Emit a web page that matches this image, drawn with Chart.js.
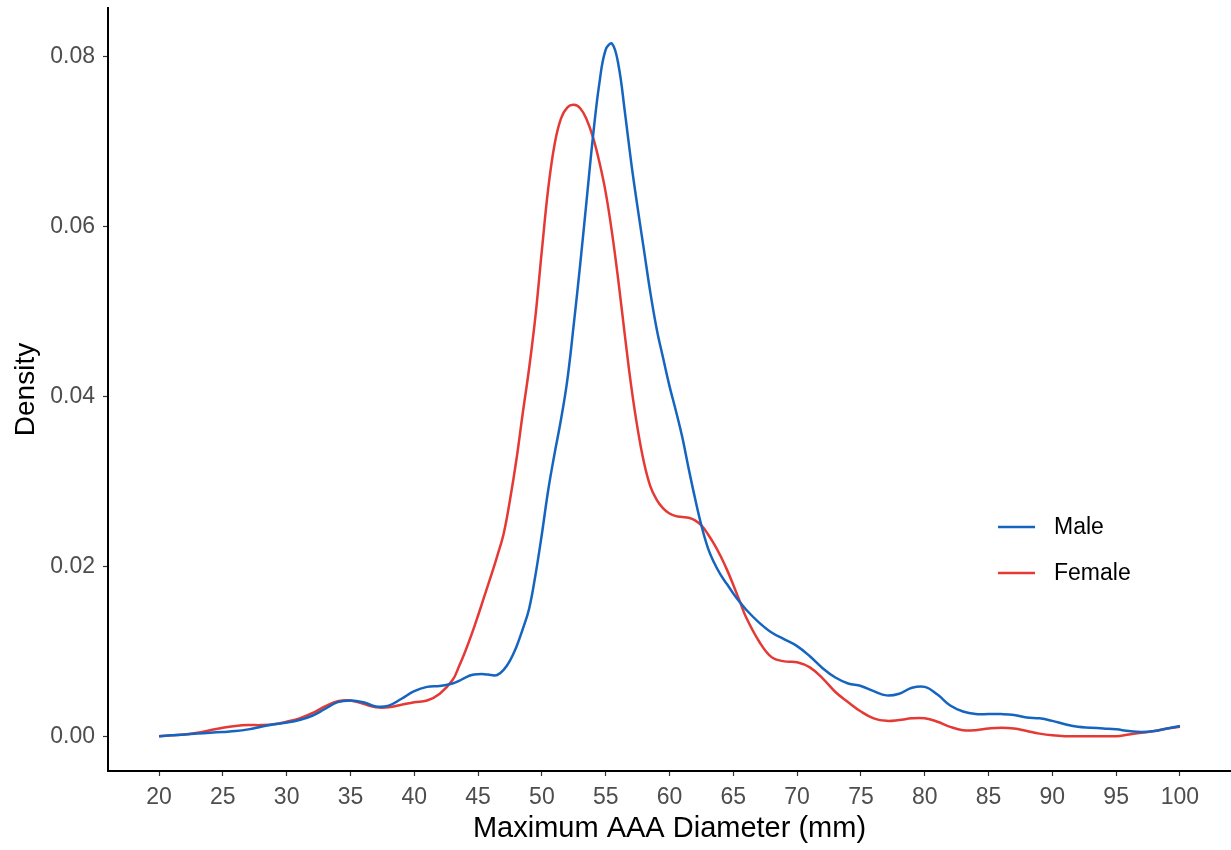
<!DOCTYPE html>
<html>
<head>
<meta charset="utf-8">
<script src="https://cdn.jsdelivr.net/npm/chart.js@4/dist/chart.umd.min.js"></script>
<style>
  html, body { margin: 0; padding: 0; background: #fff; }
  #wrap { width: 1231px; height: 850px; }
</style>
</head>
<body>
<div id="wrap"><canvas id="density" width="1231" height="850"></canvas></div>
<script>
// diameter grid (mm): 1 mm steps in the tails, 0.5 mm through the peak
const diameter = [
  20, 21, 22, 23, 24, 25, 26, 27, 28, 29, 30, 31, 32, 33, 34, 35, 36, 37, 38, 39, 40, 41, 42,
  43, 43.5, 44, 44.5, 45, 45.5, 46, 46.5, 47, 47.5,
  48, 48.5, 49, 49.5, 50, 50.5, 51, 51.5, 52, 52.5,
  53, 53.5, 54, 54.5, 55, 55.5, 56, 56.5, 57, 57.5,
  58, 58.5, 59, 59.5, 60, 60.5, 61, 61.5, 62, 62.5,
  63, 63.5, 64, 64.5, 65, 65.5, 66,
  67, 68, 69, 70, 71, 72, 73, 74, 75, 76, 77, 78, 79, 80, 81, 82, 83,
  84, 85, 86, 87, 88, 89, 90, 91, 92, 93, 94, 95, 96, 97, 98, 99, 100
];

const maleDensity = [
  0.0000, 0.0001, 0.0002, 0.0003, 0.0004, 0.0005, 0.0006, 0.0008, 0.0011, 0.0014,
  0.0016, 0.0019, 0.0024, 0.0032, 0.0040, 0.0042, 0.0040, 0.0035, 0.0036, 0.0044,
  0.0053, 0.0058, 0.0059,
  0.0062, 0.0065, 0.0069, 0.0072, 0.0073, 0.0073, 0.0072, 0.0072, 0.0078, 0.0089,
  0.0105, 0.0126, 0.0150, 0.0190, 0.0238, 0.0290, 0.0333, 0.0373, 0.0420, 0.0485,
  0.0555, 0.0630, 0.0705, 0.0768, 0.0808, 0.0815, 0.0790, 0.0735, 0.0675, 0.0622,
  0.0572, 0.0522, 0.0479, 0.0445, 0.0412, 0.0383, 0.0352, 0.0315, 0.0280, 0.0248,
  0.0222, 0.0204, 0.0190, 0.0179, 0.0168, 0.0158, 0.0149,
  0.0134, 0.0122, 0.0114, 0.0106, 0.0094, 0.0080, 0.0069, 0.0062, 0.0059, 0.0053,
  0.0048, 0.0050, 0.0057, 0.0058, 0.0049, 0.0036, 0.0029, 0.0026, 0.0026, 0.0026,
  0.0025, 0.0022, 0.0021, 0.0018, 0.0014, 0.0011, 0.0010, 0.0009, 0.0008, 0.0006,
  0.0005, 0.0006, 0.0009, 0.0012
];

const femaleDensity = [
  0.0000, 0.0001, 0.0002, 0.0004, 0.0007, 0.0010, 0.0012, 0.0013, 0.0013, 0.0014,
  0.0017, 0.0021, 0.0027, 0.0035, 0.0041, 0.0042, 0.0038, 0.0034, 0.0034, 0.0037,
  0.0040, 0.0042, 0.0050,
  0.0066, 0.0082, 0.0100, 0.0120, 0.0142, 0.0165, 0.0188, 0.0212, 0.0238, 0.0278,
  0.0325, 0.0380, 0.0433, 0.0495, 0.0572, 0.0645, 0.0697, 0.0727, 0.0740, 0.0743,
  0.0739, 0.0726, 0.0705, 0.0676, 0.0640, 0.0592, 0.0535, 0.0472, 0.0412, 0.0362,
  0.0322, 0.0294, 0.0278, 0.0268, 0.0262, 0.0259, 0.0258, 0.0257, 0.0254, 0.0248,
  0.0238, 0.0226, 0.0212, 0.0196, 0.0178, 0.0159, 0.0140,
  0.0112, 0.0093, 0.0088, 0.0087, 0.0081, 0.0068, 0.0052, 0.0040, 0.0029, 0.0021,
  0.0018, 0.0019, 0.0021, 0.0021, 0.0017, 0.0011, 0.0007, 0.0007, 0.0009, 0.0010,
  0.0009, 0.0006, 0.0003, 0.0001, 0.0000, 0.0000, 0.0000, 0.0000, 0.0000, 0.0002,
  0.0004, 0.0006, 0.0009, 0.0011
];

const xTicks = [20, 25, 30, 35, 40, 45, 50, 55, 60, 65, 70, 75, 80, 85, 90, 95, 100];
const yTicks = [0, 0.02, 0.04, 0.06, 0.08];

const seriesNames = ['Male', 'Female'];
const seriesColors = ['#1565C0', '#E53935'];

const FONT = '"Liberation Sans", Arial, sans-serif';

const toPoints = (ys) => diameter.map((x, i) => ({ x: x, y: ys[i] }));

// legend drawn inside the panel, ggplot style
const insideLegend = {
  id: 'insideLegend',
  afterDraw(chart) {
    const ctx = chart.ctx;
    ctx.save();
    ctx.font = '23px ' + FONT;
    ctx.textBaseline = 'middle';
    seriesNames.forEach((name, i) => {
      const y = 527 + i * 46;
      ctx.strokeStyle = seriesColors[i];
      ctx.lineWidth = 2.5;
      ctx.beginPath();
      ctx.moveTo(998, y);
      ctx.lineTo(1035, y);
      ctx.stroke();
      ctx.fillStyle = '#000';
      ctx.fillText(name, 1054, y + 1);
    });
    ctx.restore();
  }
};

new Chart(document.getElementById('density'), {
  type: 'line',
  data: {
    datasets: [
      {
        label: seriesNames[0],
        data: toPoints(maleDensity),
        borderColor: seriesColors[0],
        borderWidth: 2.5,
        pointRadius: 0,
        tension: 0.4,
        fill: false
      },
      {
        label: seriesNames[1],
        data: toPoints(femaleDensity),
        borderColor: seriesColors[1],
        borderWidth: 2.5,
        pointRadius: 0,
        tension: 0.4,
        fill: false
      }
    ]
  },
  options: {
    responsive: false,
    animation: false,
    layout: { padding: { top: 8, right: 0, bottom: 0, left: 0 } },
    plugins: {
      legend: { display: false },
      tooltip: { enabled: false }
    },
    scales: {
      x: {
        type: 'linear',
        min: 16,
        max: 104,
        afterBuildTicks: (axis) => { axis.ticks = xTicks.map(v => ({ value: v })); },
        afterFit: (axis) => {
          axis.height = 79;
          axis.paddingLeft = 0;
          axis.paddingRight = 0;
        },
        grid: {
          drawOnChartArea: false,
          drawTicks: true,
          tickLength: 5,
          tickWidth: 1.2,
          tickColor: '#333'
        },
        border: { display: true, color: '#000', width: 2 },
        ticks: {
          autoSkip: false,
          maxRotation: 0,
          padding: 8,
          color: '#4D4D4D',
          font: { family: FONT, size: 23 }
        },
        title: {
          display: true,
          text: 'Maximum AAA Diameter (mm)',
          color: '#000',
          padding: { top: 0, bottom: 4 },
          font: { family: FONT, size: 29 }
        }
      },
      y: {
        type: 'linear',
        min: -0.0041,
        max: 0.0857,
        afterBuildTicks: (axis) => { axis.ticks = yTicks.map(v => ({ value: v })); },
        afterFit: (axis) => {
          axis.width = 108;
          axis.paddingTop = 0;
          axis.paddingBottom = 0;
        },
        grid: {
          drawOnChartArea: false,
          drawTicks: true,
          tickLength: 5,
          tickWidth: 1.2,
          tickColor: '#333'
        },
        border: { display: true, color: '#000', width: 2 },
        ticks: {
          padding: 8,
          color: '#4D4D4D',
          font: { family: FONT, size: 23 },
          callback: (v) => v.toFixed(2)
        },
        title: {
          display: true,
          text: 'Density',
          color: '#000',
          padding: { top: 9, bottom: 0 },
          font: { family: FONT, size: 28 }
        }
      }
    }
  },
  plugins: [insideLegend]
});
</script>
</body>
</html>
